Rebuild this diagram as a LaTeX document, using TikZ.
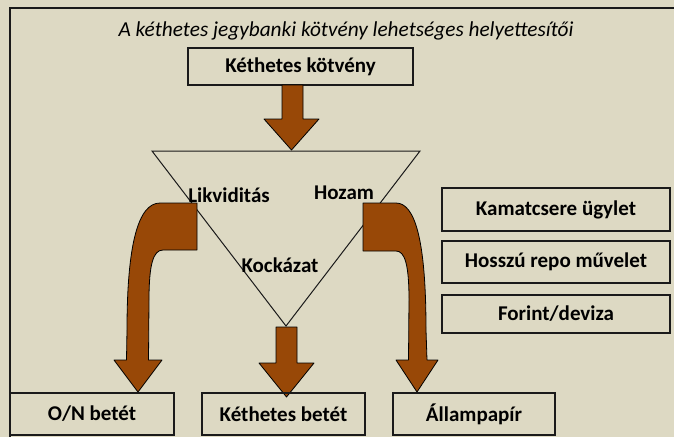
\documentclass[tikz,border=0pt]{standalone}
\usepackage{fontspec}
\setmainfont{Carlito}
\definecolor{bgc}{HTML}{DDD9C3}
\definecolor{brn}{HTML}{984807}
\definecolor{ln}{HTML}{1A1A1A}
\begin{document}
\begin{tikzpicture}[x=1pt,y=-1pt,
  box/.style={draw=ln,line width=1.2pt,inner sep=0pt,font=\bfseries\fontsize{21}{24}\selectfont},
  lbl/.style={inner sep=0pt,font=\bfseries\fontsize{21}{24}\selectfont},
  barrow/.style={fill=brn,draw=black,line width=0.8pt,line join=round}]
\fill[bgc] (0,0) rectangle (674,437);
\useasboundingbox (0,0) rectangle (674,437);
\draw[ln,line width=1.2pt] (10,437) -- (10,8) -- (674,8);
\node[inner sep=0pt,font=\itshape\fontsize{21.3}{24}\selectfont] (title) at (346,31) {A kéthetes jegybanki kötvény lehetséges helyettesítői};
% top box
\node[box,minimum width=225pt,minimum height=37pt] (kk) at (300.5,66.5) {Kéthetes kötvény};
% triangle
\coordinate (tl) at (152,151);
\coordinate (tr) at (420,151);
\coordinate (tb) at (286,326);
\draw[ln,line width=1pt] (tl) -- (tr) -- (tb) -- cycle;
% top straight arrow
\draw[barrow] (282,85) -- (303,85) -- (303,119) -- (319,119) -- (291.5,150) -- (264,119) -- (282,119) -- cycle;
% middle straight arrow
\draw[barrow] (276,327) -- (297,327) -- (297,363) -- (314,363) -- (286.5,397) -- (259,363) -- (276,363) -- cycle;
% left curved arrow
\draw[barrow] (197,203) -- (160,203) .. controls (138,203) and (127,245) .. (127,330) -- (126.5,360) -- (114,360) -- (138,392) -- (162,360) -- (148.5,360) -- (149,300) .. controls (149,265) and (153,250) .. (163,250) -- (197,250) -- cycle;
% right curved arrow
\draw[barrow] (363,203) -- (396,203) .. controls (415,203) and (426,240) .. (426,330) -- (427,360) -- (438,360) -- (417,392) -- (396,360) -- (408.5,360) -- (409,300) .. controls (409,265) and (405,251) .. (396,251) -- (363,251) -- cycle;
% labels
\node[lbl] (likv) at (229,195) {Likviditás};
\node[lbl] (hoz) at (344,193) {Hozam};
\node[lbl] (kock) at (280,265) {Kockázat};
% right boxes
\node[box,minimum width=228pt,minimum height=43pt] (kam) at (556,209.5) {Kamatcsere ügylet};
\node[box,minimum width=228pt,minimum height=42pt] (hossz) at (556,262) {Hosszú repo művelet};
\node[box,minimum width=228pt,minimum height=38pt] (fd) at (556,314) {Forint/deviza};
% bottom boxes
\node[box,minimum width=164pt,minimum height=42pt] (on) at (92,414) {O/N betét};
\node[box,minimum width=163pt,minimum height=42pt] (kb) at (283.5,414) {Kéthetes betét};
\node[box,minimum width=162pt,minimum height=42pt] (ap) at (474,414) {Állampapír};
\end{tikzpicture}
\end{document}
